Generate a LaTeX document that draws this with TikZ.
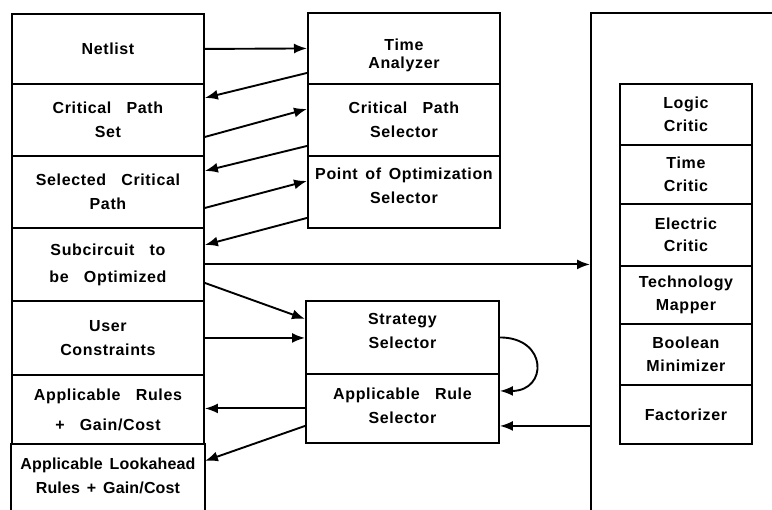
\documentclass[tikz,border=0pt]{standalone}
\usepackage{fontspec}
\setmainfont{Liberation Sans}[LetterSpace=4, WordSpace=1.5]
\usetikzlibrary{arrows.meta}
% invisible struts that move a centred label down (tall first line) or up (deep last line)
\newcommand\padtop[1]{\rule{0pt}{#1}}
\newcommand\padbot[1]{\rule[-#1]{0pt}{#1}}
\begin{document}
\begin{tikzpicture}[x=1pt,y=-1pt,
  box/.style={draw, line width=1.9pt, inner sep=0pt, anchor=north west,
    align=center, font=\fontsize{16}{24}\selectfont\bfseries},
  lbox/.style={box, minimum width=192pt},
  mbox/.style={box, minimum width=192pt},
  rbox/.style={box, minimum width=132pt, font=\fontsize{16}{22.5}\selectfont\bfseries},
  arr/.style={line width=1.9pt, -{Latex[length=13pt,width=10pt]}},
  edge/.style={line width=1.9pt}]
\clip (0,0) rectangle (772,510);
\fill[white] (0,0) rectangle (772,510);

% left column: data handled by the optimizer
\node[lbox, minimum height=70pt] (net) at (11,13) {Netlist};
\node[lbox, minimum height=72pt] (cps) at (11,83) {Critical\ \ Path\\Set};
\node[lbox, minimum height=72pt] (scp) at (11,155) {Selected\ \ Critical\\Path};
\node[lbox, minimum height=73pt] (sub) at (11,227) {Subcircuit\ \ to\\[3pt]be\ \ Optimized};
\node[lbox, minimum height=74pt] (uc) at (11,300) {User\\Constraints};
\node[lbox, minimum height=69pt] (ar) at (11,374) {Applicable\ \ Rules\\[6pt]+\ \ Gain/Cost};
\node[lbox, draw=none, minimum height=63pt, font=\fontsize{16}{24}\selectfont\bfseries\addfontfeature{LetterSpace=1}] (alr) at (11,443) {Applicable Lookahead\\Rules + Gain/Cost};
\draw[edge] (alr.north west) -- ++(0,90);
\draw[edge] (alr.north east) -- ++(0,90);

% middle column: selectors
\node[mbox, minimum height=71pt] (ta) at (307,12) {\padtop{26pt}Time\\[-6pt]Analyzer};
\node[mbox, minimum height=72pt] (cpsel) at (307,83) {Critical\ \ Path\\Selector};
\node[mbox, minimum height=72pt] (poo) at (307,155) {Point of Optimization\\Selector\padbot{12pt}};
\node[mbox, minimum width=193pt, minimum height=73pt] (ss) at (305,300) {Strategy\\Selector\padbot{13pt}};
\node[mbox, minimum width=193pt, minimum height=69pt] (ars) at (305,373) {Applicable\ \ Rule\\Selector\padbot{6pt}};

% right: the critics and transformers
\node[box, minimum width=260pt, minimum height=540pt] (big) at (590,12) {};
\node[rbox, minimum height=61pt] (lc) at (619,83) {Logic\\Critic};
\node[rbox, minimum height=59pt] (tc) at (619,144) {Time\\Critic};
\node[rbox, minimum height=62pt] (ec) at (619,203) {Electric\\Critic};
\node[rbox, minimum height=58pt] (tm) at (619,265) {Technology\\Mapper};
\node[rbox, minimum height=61pt] (bm) at (619,323) {Boolean\\Minimizer};
\node[rbox, minimum height=59pt] (fz) at (619,384) {Factorizer};

% connectors
\draw[arr] (net.east) -- (ta.west);
\draw[arr] ([yshift=-24.5pt]ta.west) -- ([yshift=22pt]cps.east);
\draw[arr] ([yshift=-17pt]cps.east) -- ([yshift=11pt]cpsel.west);
\draw[arr] ([yshift=-26pt]cpsel.west) -- ([yshift=21pt]scp.east);
\draw[arr] ([yshift=-16pt]scp.east) -- ([yshift=11pt]poo.west);
\draw[arr] ([yshift=-26pt]poo.west) -- ([yshift=19.5pt]sub.east);
\draw[arr] (sub.east) -- (sub.east -| big.west);
\draw[arr] ([yshift=-18.5pt]sub.east) -- ([yshift=18.5pt]ss.west);
\draw[arr] (uc.east) -- (uc.east -| ss.west);
\draw[arr] (ars.west) -- (ars.west -| ar.east);
\draw[arr] ([yshift=-17.5pt]ars.west) -- ([yshift=14.5pt]alr.east);
\draw[arr] (ss.east) .. controls +(48,0) and +(48,0) .. ([yshift=17.5pt]ars.east);
\coordinate (back) at ([yshift=-17.5pt]ars.east);
\draw[arr] (back -| big.west) -- (back);
\end{tikzpicture}
\end{document}
